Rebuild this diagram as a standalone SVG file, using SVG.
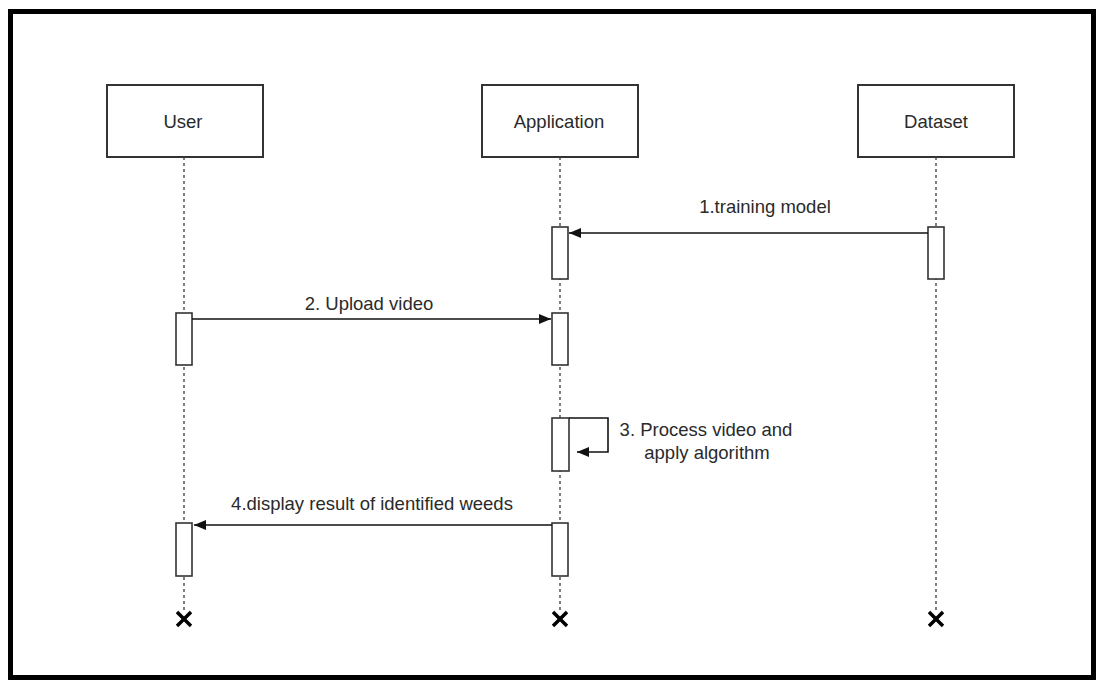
<svg xmlns="http://www.w3.org/2000/svg" width="1097" height="680" viewBox="0 0 1097 680">
  <defs>
    <marker id="arrow" viewBox="0 0 12 10" refX="12" refY="5" markerWidth="12" markerHeight="10" markerUnits="userSpaceOnUse" orient="auto">
      <path d="M0,0 L12,5 L0,10 Z" fill="#111"/>
    </marker>
    <style>
      .frame { fill: #fff; stroke: #000; stroke-width: 5; }
      .actor { fill: #fff; stroke: #333; stroke-width: 2; }
      .act { fill: #fff; stroke: #333; stroke-width: 1.6; }
      .life { stroke: #555; stroke-width: 1.5; stroke-dasharray: 3 3; fill: none; }
      .msg { stroke: #111; stroke-width: 1.6; fill: none; }
      .end { stroke: #000; stroke-width: 3.5; stroke-linecap: butt; }
      text { font-family: "Liberation Sans", Arial, sans-serif; font-size: 18.5px; fill: #2a2a2a; }
      .mid { text-anchor: middle; }
    </style>
  </defs>

  <!-- page frame -->
  <rect class="frame" x="10.5" y="11.5" width="1083" height="666"/>

  <!-- lifelines -->
  <g id="lifelines">
    <line class="life" x1="184" y1="157" x2="184" y2="611"/>
    <line class="life" x1="560" y1="157" x2="560" y2="611"/>
    <line class="life" x1="936" y1="157" x2="936" y2="611"/>
  </g>

  <!-- participants -->
  <g id="user">
    <rect class="actor" x="107" y="85" width="156" height="72"/>
    <text class="mid" x="183" y="128">User</text>
  </g>
  <g id="application">
    <rect class="actor" x="482" y="85" width="156" height="72"/>
    <text class="mid" x="559" y="128">Application</text>
  </g>
  <g id="dataset">
    <rect class="actor" x="858" y="85" width="156" height="72"/>
    <text class="mid" x="936" y="128">Dataset</text>
  </g>

  <!-- activation bars -->
  <g id="activations">
    <rect class="act" x="552" y="227" width="16" height="52"/>
    <rect class="act" x="928" y="227" width="16" height="52"/>
    <rect class="act" x="176" y="313" width="16" height="52"/>
    <rect class="act" x="552" y="313" width="16" height="52"/>
    <rect class="act" x="552" y="418" width="17" height="53"/>
    <rect class="act" x="176" y="523" width="16" height="53"/>
    <rect class="act" x="552" y="523" width="16" height="53"/>
  </g>

  <!-- messages -->
  <g id="connectors">
    <line class="msg" x1="928" y1="233" x2="569" y2="233" marker-end="url(#arrow)"/>
    <line class="msg" x1="192" y1="319" x2="551" y2="319" marker-end="url(#arrow)"/>
    <polyline class="msg" points="569,418 608,418 608,452 577,452" marker-end="url(#arrow)"/>
    <line class="msg" x1="552" y1="525" x2="194" y2="525" marker-end="url(#arrow)"/>
  </g>

  <!-- message labels -->
  <g id="labels">
    <text class="mid" x="765" y="213">1.training model</text>
    <text class="mid" x="369" y="310">2. Upload video</text>
    <text class="mid" x="706" y="436">3. Process video and</text>
    <text class="mid" x="707" y="459">apply algorithm</text>
    <text class="mid" x="372" y="510">4.display result of identified weeds</text>
  </g>

  <!-- lifeline terminations -->
  <g id="terminations">
    <path class="end" d="M177,612 L191,626 M191,612 L177,626"/>
    <path class="end" d="M553,612 L567,626 M567,612 L553,626"/>
    <path class="end" d="M929,612 L943,626 M943,612 L929,626"/>
  </g>
</svg>
